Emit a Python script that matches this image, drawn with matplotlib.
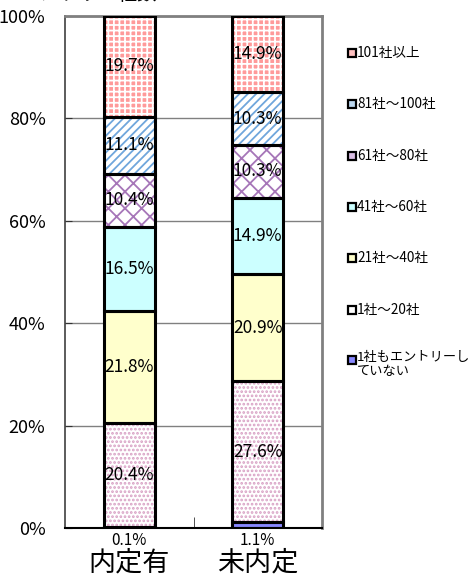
import matplotlib
matplotlib.use("Agg")
import matplotlib.pyplot as plt
from matplotlib.lines import Line2D

plt.rcParams['font.family'] = ['Noto Sans CJK JP', 'DejaVu Sans']
plt.rcParams['hatch.linewidth'] = 1.3

# ---- data ----
groups = ['内定有', '未内定']
series = ['1社もエントリーし\nていない', '1社～20社', '21社～40社', '41社～60社',
          '61社～80社', '81社～100社', '101社以上']
naitei_ari = [0.1, 20.4, 21.8, 16.5, 10.4, 11.1, 19.7]
mi_naitei = [1.1, 27.6, 20.9, 14.9, 10.3, 10.3, 14.9]
y_ticks = [0, 20, 40, 60, 80, 100]
y_tick_labels = ['0%', '20%', '40%', '60%', '80%', '100%']
title_text = 'エントリー社数'

# ---- styles ----
face = ['#8888ff', 'white', '#ffffcc', '#ccffff', 'white', 'white', '#ff9a9a']
hatch = [None, '....', None, None, 'xx', '////', '+++']
hcolor = ['#8888ff', '#d8a0c4', '#ffffcc', '#ccffff', '#a676b8', '#6fa6dc', 'white']
legend_face = ['#8888ff', 'white', '#ffffcc', '#ccffff', '#d9bde3', '#bcd7ef', '#ffc0c0']

W, H = 470, 575
fig = plt.figure(figsize=(W / 100, H / 100), dpi=100)
ax = fig.add_axes([65 / W, (H - 528) / H, (322 - 65) / W, (528 - 16) / H])

values = [naitei_ari, mi_naitei]
xs = list(range(len(groups)))
bw = 0.4
for gi, vals in enumerate(values):
    bottom = 0
    for si, v in enumerate(vals):
        ax.bar(xs[gi], v, bw, bottom=bottom, color=face[si], hatch=hatch[si],
               edgecolor=hcolor[si], linewidth=0, zorder=2)
        ax.bar(xs[gi], v, bw, bottom=bottom, fill=False, edgecolor='black',
               linewidth=2.2, zorder=3)
        if si == 0:
            ax.annotate(f'{v:.1f}%', xy=(xs[gi], 0), xycoords=('data', 'axes fraction'),
                        xytext=(0, -9), textcoords='offset points',
                        ha='center', va='center', fontsize=11, zorder=4)
        else:
            ax.text(xs[gi], bottom + v / 2, f'{v:.1f}%', ha='center', va='center',
                    fontsize=12.5, zorder=4)
        bottom += v

ax.set_xlim(-0.5, len(groups) - 0.5)
ax.set_ylim(0, 100)
ax.set_yticks(y_ticks)
ax.set_yticklabels(y_tick_labels, fontsize=13)
ax.tick_params(axis='y', direction='in', length=5, pad=14, color='#333333')
ax.yaxis.grid(True, color='#808080', linewidth=1.0, zorder=0)
ax.set_axisbelow(True)

ax.set_xticks(xs)
ax.set_xticklabels([])
ax.tick_params(axis='x', which='major', length=0)
ax.set_xticks([0.5], minor=True)
ax.tick_params(axis='x', which='minor', direction='in', length=8, color='#333333')

for gi, g in enumerate(groups):
    ax.annotate(g, xy=(xs[gi], 0), xycoords=('data', 'axes fraction'),
                xytext=(0, -25), textcoords='offset points',
                ha='center', va='center', fontsize=19.5)

for s in ['top', 'right']:
    ax.spines[s].set_color('#808080')
    ax.spines[s].set_linewidth(2.0)
ax.spines['left'].set_color('#404040')
ax.spines['left'].set_linewidth(1.2)
ax.spines['bottom'].set_color('black')
ax.spines['bottom'].set_linewidth(1.5)

# legend (manual, top to bottom)
leg_y = [53, 104, 156, 207, 258, 310, 360]
for k, si in enumerate(range(len(series) - 1, -1, -1)):
    y = leg_y[k]
    fig.add_artist(Line2D([352 / W], [1 - y / H], transform=fig.transFigure,
                          marker='s', markersize=6, markerfacecolor=legend_face[si],
                          markeredgecolor='black', markeredgewidth=1.6, linestyle='none'))
    if '\n' in series[si]:
        fig.text(357 / W, 1 - (y - 8.5) / H, series[si], ha='left', va='top',
                 fontsize=9.5, linespacing=1.1)
    else:
        fig.text(357 / W, 1 - y / H, series[si], ha='left', va='center', fontsize=9.8)

# title (cropped at the top of the image in the reference)
fig.text(20 / W, 1 - 5 / H, title_text, ha='left', va='bottom', fontsize=14)

fig.savefig('out.png', dpi=100)
